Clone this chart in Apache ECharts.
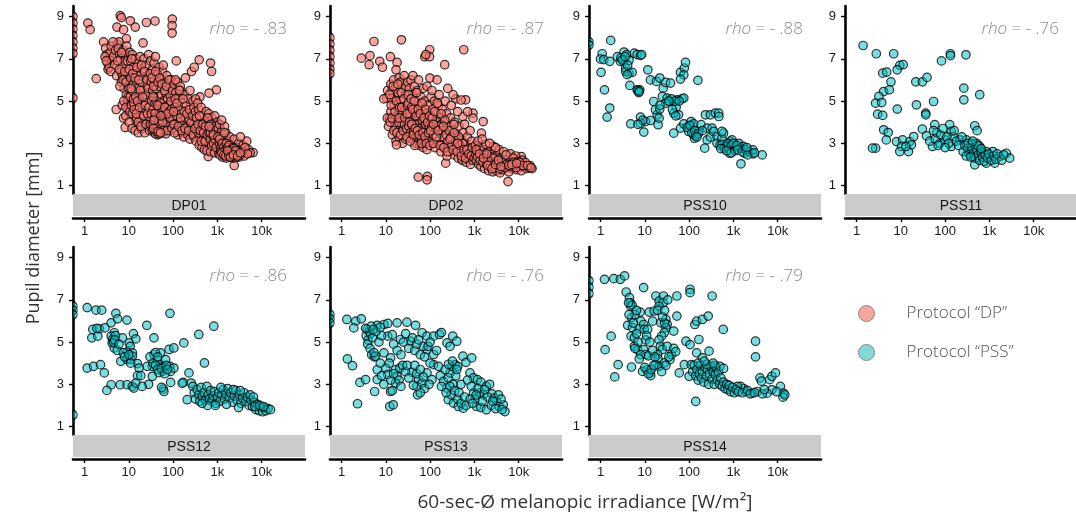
<!DOCTYPE html>
<html>
<head>
<meta charset="utf-8">
<script src="https://cdn.jsdelivr.net/npm/echarts@6/dist/echarts.min.js"></script>
<style>
html,body{margin:0;padding:0;background:#fff;}
#chart{width:1076px;height:515px;}
</style>
</head>
<body>
<div id="chart"></div>
<script>
// ---------------- DATA ----------------
const panelNames = ['DP01', 'DP02', 'PSS10', 'PSS11', 'PSS12', 'PSS13', 'PSS14'];
const panelProtocol = [0, 0, 1, 1, 1, 1, 1];
const rhoValues = ['- .83', '- .87', '- .88', '- .76', '- .86', '- .76', '- .79'];
const protocolNames = ['Protocol \u201CDP\u201D', 'Protocol \u201CPSS\u201D'];
const xTickValues = [1, 10, 100, 1000, 10000];
const xTickLabels = ['1', '10', '100', '1k', '10k'];
const yTickValues = [1, 3, 5, 7, 9];
const xTitle = '60-sec-\u00D8 melanopic irradiance [W/m\u00B2]';
const yTitle = 'Pupil diameter [mm]';

// points with x below the axis range sit at its left edge (x = 0.551)
const dp01 = [
[0.551,9.0],[0.551,8.7],[0.551,8.4],[0.551,8.1],[0.551,7.8],[0.551,7.5],[0.551,7.25],[0.551,5.15],
[1.19,8.69],[1.34,8.38],[1.84,6.06],[6.4,9.04],[6.8,8.95],[5.4,8.5],[7.6,8.38],[10.8,8.8],[14,8.5],[25,8.72],[39,8.79],[96,8.88],[95,8.57],[95,8.22],[8.8,7.95],[21,7.75],[118,6.9],[388,6.95],[700,6.8],[740,6.4],[950,5.53],[650,5.38],[405,5.2],[5.2,4.6],[7.6,4.2],[8.3,3.75],[620,2.37],[2400,1.95],[6400,2.56],[3.4,6.5],[2.7,7.8],
[3.0,7.5],[3.2,7.2],[3.5,7.0],[3.3,6.8],[3.8,7.3],[4.0,7.6],[4.2,6.9],[3.6,6.6],[4.5,7.1],[2.9,7.1],[3.1,6.9],[5.0,7.4],[5.5,7.7],[6.0,7.8],[5.8,7.5],[4.8,6.7],[3.9,6.4],[5.3,6.2],[6.2,7.2],[4.4,7.8],
[6.5,7.0],[7.0,6.6],[7.5,7.4],[8.0,6.9],[8.5,7.2],[9.0,7.6],[7.2,6.2],[6.8,5.9],[8.2,6.0],[9.5,6.4],[7.8,5.6],[8.8,5.3],[9.2,5.0],[6.3,5.7],[7.1,4.8],[9.6,4.6],[8.5,4.3],[9.8,5.8],[6.6,6.4],[9.9,7.1],
[5.6,6.9],[6.1,6.5],[6.9,7.3],[7.4,6.0],[8.1,6.4],[8.7,5.9],[9.3,6.9],[9.7,5.2],[7.7,5.0],[8.6,4.7],[10.1,5.6],[10.6,4.5],
[10.5,7.3],[11,6.9],[12,7.2],[13,6.6],[14,7.0],[15,6.3],[16,6.8],[18,7.1],[20,6.5],[22,7.0],[25,6.7],[28,7.2],[11,6.1],[12.5,5.8],[13.5,5.4],[14.5,6.0],[16,5.6],[17,5.2],[19,5.9],[21,5.5],[23,6.1],[26,5.7],[29,6.2],[10.8,5.2],[11.5,4.8],[12,4.4],[13,4.9],[14,4.1],[15.5,4.6],[17,3.9],[18.5,4.3],[20,4.8],[22,4.0],[24,4.5],[27,3.8],[29,4.2],[10.2,4.0],[11.8,3.7],[13.8,3.6],[16.5,3.5],[19.5,3.7],[23,3.5],[26,5.1],[28,5.4],[12,5.5],[18,6.2],[24,5.3],[15,4.2],
[10.3,6.5],[11.2,5.6],[11.7,7.0],[12.3,6.3],[12.8,5.1],[13.3,4.6],[13.7,6.1],[14.3,5.2],[14.8,4.4],[15.2,6.6],[15.8,5.0],[16.3,4.0],[16.8,6.0],[17.5,4.7],[18.2,5.5],[18.8,3.8],[19.3,6.7],[20.5,5.2],[21.5,4.3],[22.5,6.4],[23.5,4.8],[24.5,3.9],[25.5,6.0],[26.5,4.4],[27.5,5.6],[28.5,4.7],[29.5,3.6],
[31,6.9],[34,6.5],[37,6.8],[40,7.1],[44,6.3],[48,6.6],[52,6.0],[58,6.4],[65,5.9],[72,6.2],[80,5.7],[90,6.0],[32,5.9],[35,5.5],[38,6.0],[42,5.6],[46,5.2],[50,5.7],[55,5.3],[60,5.0],[68,5.4],[75,5.1],[85,5.3],[95,4.9],[33,5.0],[36,4.6],[39,4.9],[43,4.3],[47,4.7],[51,4.1],[56,4.5],[62,4.2],[70,4.6],[78,4.0],[88,4.4],[98,4.1],[31,3.9],[34,3.6],[38,3.5],[41,3.8],[45,3.4],[49,3.6],[53,3.9],[57,3.5],[63,3.7],[69,3.45],[76,3.8],[84,3.6],[92,3.9],[40,3.45],[44,3.6],[60,6.7],[100,5.6],[66,3.9],
[30.5,6.3],[32.5,4.4],[33.5,6.1],[35.5,3.9],[36.5,5.7],[38.5,4.2],[40.5,6.4],[41.5,5.0],[43.5,3.7],[45.5,5.9],[47.5,4.0],[49.5,6.1],[51.5,4.9],[54,3.7],[56,5.8],[59,4.7],[61,3.6],[64,5.5],[67,4.3],[71,5.7],[73,3.6],[77,4.8],[81,6.0],[86,4.2],[89,5.0],[94,3.7],[97,5.5],[42,3.55],[48,3.45],[36,3.7],[46,3.55],[52,3.5],
[45,4.8],[39,4.4],[58,4.0],[65,4.7],[82,4.5],[91,4.6],[74,4.4],[53,4.3],[35,5.2],[37,4.1],
[105,5.8],[115,5.4],[125,5.9],[135,5.2],[150,5.5],[165,4.9],[180,5.3],[200,4.8],[220,5.1],[250,4.6],[280,5.0],[110,4.7],[120,4.3],[130,4.6],[140,4.0],[155,4.4],[170,3.9],[190,4.2],[210,3.8],[230,4.1],[260,3.7],[290,3.9],[105,3.9],[118,3.6],[128,3.4],[145,3.7],[160,3.5],[175,3.3],[195,3.6],[215,3.4],[240,3.2],[270,3.5],[300,3.3],[112,5.1],[145,5.7],[190,6.1],[240,5.5],[320,5.1],[260,6.4],[300,6.6],
[102,4.5],[108,3.5],[113,6.0],[122,4.9],[132,3.8],[138,5.5],[148,4.2],[158,3.6],[168,5.1],[178,4.5],[185,3.7],[205,4.4],[225,3.6],[235,4.6],[255,4.0],[275,4.3],[285,3.4],[295,4.7],
[320,4.5],[350,4.2],[380,4.6],[420,4.0],[460,4.3],[500,3.8],[550,4.1],[600,3.7],[660,4.0],[720,3.6],[800,3.9],[900,3.5],[340,3.8],[370,3.5],[400,3.3],[440,3.6],[480,3.2],[520,3.4],[570,3.0],[620,3.3],[680,2.9],[750,3.2],[830,2.8],[920,3.1],[330,3.1],[390,2.9],[450,2.8],[510,2.7],[580,2.65],[700,2.6],[860,2.55],[360,4.9],[430,4.7],[560,4.5],[640,4.4],[760,4.2],[870,4.3],[980,4.0],[990,3.3],
[310,3.7],[335,4.2],[365,3.9],[395,4.3],[410,3.6],[435,3.1],[470,3.9],[490,3.5],[530,3.1],[540,3.8],[590,3.4],[610,4.2],[650,3.5],[690,3.2],[710,3.9],[740,2.9],[780,3.4],[810,3.0],[850,3.7],[880,3.2],[940,2.8],[960,3.7],[700,3.5],[760,3.7],[820,3.4],[900,3.8],[650,3.8],
[1050,3.7],[1150,3.4],[1250,3.6],[1400,3.2],[1550,3.5],[1700,3.1],[1900,3.3],[2100,2.9],[2400,3.2],[2700,2.8],[3000,3.0],[3400,2.7],[3800,2.9],[4300,2.6],[5000,2.7],[1100,3.0],[1200,2.8],[1350,2.6],[1500,2.9],[1650,2.5],[1800,2.7],[2000,2.45],[2200,2.6],[2500,2.4],[2800,2.55],[3100,2.35],[3500,2.5],[1080,2.5],[1300,2.35],[1600,2.3],[2300,2.3],[2600,2.5],[1950,2.55],[2150,2.35],[2900,2.65],[4000,2.4],[4600,3.1],[1120,3.9],[1450,3.8],[1250,4.1],[3300,3.3],[5500,2.55],
[1030,3.3],[1130,3.2],[1180,2.6],[1280,3.0],[1380,2.8],[1430,3.5],[1520,2.7],[1580,3.0],[1680,2.8],[1750,2.55],[1850,2.9],[2050,2.7],[2250,2.8],[2350,2.5],[2450,2.65],[2650,2.35],[2750,2.6],[3200,2.45],[3600,2.6],[4200,2.8],[4800,2.5],[2050,2.4],[2550,2.55],[1720,2.4],
[1150,2.45],[1250,2.55],[1400,2.45],[1550,2.4],[1800,2.45],[1900,2.6],[2100,2.55],[2200,2.45],[2400,2.75],[2600,2.65],[1700,2.65],[1950,2.35],[2300,2.45],[2850,2.4],[3300,2.55]
];

const dp02 = [
[0.551,8.0],[0.551,7.7],[0.551,7.4],[0.551,7.1],[0.551,6.8],[0.551,6.5],[0.551,6.3],
[2.8,7.03],[4.4,7.15],[5.4,7.82],[4.2,6.72],[7.3,6.88],[8.4,6.6],[12.7,7.1],[18,6.83],[22.5,7.9],[17,6.48],[76,7.1],[98,7.43],[97,7.1],[80,7.2],[214,6.72],[575,7.43],[99,6.09],[144,6.0],[54,1.4],[87,1.43],[85,1.27],[5750,1.19],[11500,2.37],[225,2.06],[537,2.22],[930,4.43],[930,4.19],[1580,4.03],[550,4.27],[1440,3.48],[10.4,5.14],[12,4.19],[635,5.06],[380,5.1],[500,5.05],[700,4.5],
[10.8,4.2],[11,5.5],[9,5.1],[11.5,3.8],
[13,5.8],[14,5.5],[15,6.0],[16,5.2],[17,5.7],[18,4.9],[19,5.4],[20,6.1],[22,5.0],[24,5.6],[26,4.7],[28,5.3],[13,4.5],[14.5,4.1],[15.5,4.8],[16.5,3.8],[18,4.3],[19.5,3.6],[21,4.5],[23,3.9],[25,4.2],[27,3.5],[29,4.0],[14,3.4],[17,3.1],[20,3.3],[24,3.0],[12.5,4.0],[22,5.9],[26,6.2],[13.5,5.1],[28,3.2],[17.4,2.93],
[12.2,5.3],[13.2,4.8],[13.8,4.2],[14.7,5.7],[15.2,3.6],[16.2,4.5],[17.3,5.0],[17.8,3.5],[18.7,5.8],[19.7,4.0],[20.5,4.7],[21.5,3.4],[22.5,5.4],[23.5,4.4],[24.5,3.6],[25.5,5.1],[26.5,3.9],[27.5,4.6],[28.5,5.7],[29.5,3.7],
[20,4.2],[23,4.7],[27,4.2],[31,4.8],[36,4.2],[40,3.6],[45,4.0],[50,4.6],[55,3.5],[62,4.0],[68,3.9],[75,3.8],[80,3.5],[90,4.2],
[31,5.9],[34,5.6],[37,6.0],[40,5.3],[44,5.7],[48,5.0],[52,5.5],[57,4.8],[62,5.2],[68,4.6],[75,5.0],[82,4.4],[90,4.8],[32,4.9],[35,4.4],[38,4.7],[42,4.1],[46,4.5],[50,3.9],[55,4.3],[60,3.7],[66,4.1],[72,3.6],[79,3.9],[87,3.4],[95,3.8],[33,3.8],[36,3.5],[39,3.2],[43,3.6],[47,3.0],[53,3.3],[58,2.9],[64,3.2],[70,2.8],[77,3.0],[85,2.7],[93,3.1],[30,3.3],[41,6.2],[55,6.0],[70,5.6],[85,5.7],[45,2.9],
[30.5,4.4],[32,5.3],[34,4.0],[35.5,3.1],[37,5.1],[38.5,3.9],[40.5,4.6],[42,3.4],[44,5.0],[46,3.7],[48,4.3],[50,5.4],[52,3.6],[54,4.6],[57,3.4],[60,4.4],[63,3.0],[66,4.9],[69,3.5],[73,4.2],[76,3.3],[80,4.6],[83,3.0],[88,4.0],[92,3.5],[97,4.3],[99,2.9],
[105,5.2],[115,4.6],[125,5.0],[140,4.4],[155,4.8],[170,4.2],[190,4.6],[210,4.0],[235,4.4],[260,3.8],[290,4.2],[320,3.6],[360,4.0],[400,3.4],[450,3.8],[500,3.2],[560,3.5],[620,3.0],[700,3.3],[780,2.8],[870,3.1],[960,2.6],[110,3.8],[120,3.4],[135,3.7],[150,3.1],[165,3.5],[185,2.9],[200,3.3],[225,2.7],[250,3.1],[280,2.6],[310,2.9],[350,2.45],[390,2.8],[430,2.3],[480,2.6],[530,2.2],[590,2.5],[650,2.1],[730,2.35],[820,2.0],[910,2.2],[130,2.8],[175,2.6],[240,2.4],[110,5.5],[160,5.3],[220,5.0],[300,4.8],[420,4.5],[330,5.3],[250,5.6],[600,3.9],[800,3.6],[140,4.0],[180,3.9],
[103,3.6],[112,4.2],[118,3.0],[128,4.5],[138,3.3],[145,4.9],[158,3.8],[168,2.9],[178,4.4],[195,3.6],[205,2.8],[215,4.1],[230,3.4],[245,2.6],[270,3.6],[300,3.3],[330,2.7],[345,3.9],[375,3.1],[410,2.6],[440,3.3],[470,2.9],[510,2.4],[540,3.0],[580,2.7],[630,2.3],[680,2.7],[750,2.5],[850,2.4],[900,2.8],[980,2.3],
[120,3.9],[150,3.6],[200,3.8],[280,3.2],[350,3.5],[420,3.0],
[1050,2.9],[1150,2.6],[1300,2.8],[1450,2.4],[1600,2.7],[1800,2.3],[2000,2.6],[2250,2.2],[2500,2.5],[2800,2.1],[3100,2.4],[3500,2.0],[4000,2.3],[4500,1.95],[5000,2.2],[5600,1.85],[6300,2.1],[7000,1.8],[8000,2.0],[9000,1.75],[10000,1.95],[11500,1.7],[13000,1.9],[15000,1.8],[17000,1.85],[20000,1.8],[1100,2.2],[1250,2.0],[1400,1.9],[1700,1.8],[2100,1.7],[2600,1.65],[3200,1.7],[3800,1.6],[4300,1.75],[6000,1.65],[1200,3.1],[1800,2.95],[2700,2.85],[3600,2.7],[4600,2.6],[6500,2.5],[8500,2.4],[12000,2.2],[3000,2.8],[5200,2.45],[7500,2.3],[9500,2.15],[14000,2.1],[18000,1.95],[1500,3.2],[2200,3.0],
[1080,2.45],[1180,2.35],[1350,2.2],[1550,2.1],[1650,2.45],[1900,2.0],[2300,1.9],[2400,2.35],[2900,1.85],[3300,2.2],[3700,1.8],[4200,2.1],[4800,1.85],[5400,2.0],[6800,1.9],[7700,2.1],[8800,1.85],[10500,2.1],[12500,1.95],[16000,1.95],[19000,1.85],[2700,2.3],[2000,2.2],
[2000,1.95],[2500,1.8],[3000,2.0],[3500,2.2],[4000,1.9],[6000,1.95],[7000,2.0],[9000,2.05],[1100,2.7],[1300,2.5],[1600,2.3],[1900,2.5]
];

const pss10 = [
[0.551,7.8],[0.551,7.65],
[1.7,7.87],[1.09,7.24],[1.0,6.99],[1.19,6.96],[1.62,6.88],[1.03,6.36],[1.23,5.53],[1.41,4.24],[1.62,4.67],[2.4,7.1],[3.4,7.32],[3.9,7.2],[4.4,6.93],[3.3,6.88],[2.8,6.88],[3.7,6.56],[3.7,6.4],[4.4,6.32],[5.2,6.36],[5.8,7.27],[6.7,7.2],[8,7.16],[4.6,5.74],[6.7,5.53],[7.7,5.53],[7.3,5.4],[4.8,3.92],[8,4.24],[10.4,4.03],[9.5,3.53],[13.4,4.08],[19,4.35],[20,3.88],[21,4.19],[11.7,6.48],[13.4,6.0],[18.3,5.93],[21.8,6.09],[26,5.61],[29.5,5.88],[38,5.85],[15.9,4.98],[17.4,4.59],[21.8,4.62],[25,5.22],[31.9,5.14],[34.8,4.98],[45,4.98],[53.6,5.06],[69,5.11],[76,5.14],[51,4.71],[58,4.35],[45,4.43],[45,3.48],[63.8,6.36],[78,6.56],[83,6.83],[76,6.24],[63.8,6.04],[158,5.98],[64,3.72],[76,3.92],[98,3.8],[111,4.03],[127,3.92],[98,3.56],[127,3.4],[132,3.24],[166,3.56],[186,3.88],[234,4.35],[302,4.35],[390,4.43],[467,4.43],[470,4.27],[256,3.72],[330,3.72],[256,3.16],[302,3.29],[360,3.56],[427,3.32],[225,2.77],[427,3.0],[550,3.24],[660,2.82],[780,2.93],[850,3.09],[930,3.16],[980,2.77],[830,2.53],[1070,2.85],[1320,3.0],[1440,2.77],[1660,2.85],[1480,2.03],[1780,2.53],[2240,2.61],[2760,2.5],[2760,2.69],[4470,2.45],[600,3.48],[550,3.56],
[2.9,7.05],[3.1,6.95],[4.1,6.7],[4.0,6.25],[3.6,7.1],[7.0,5.5],[7.5,5.45],[8.5,7.2],[90,3.75],[105,3.85],[115,3.5],[140,3.35],[135,3.6],[500,2.9],[560,2.95],[620,2.75],[700,2.85],[750,3.0],[900,2.9],[1000,3.0],[1100,2.65],[1200,2.9],[900,2.55],[1250,2.7],[40,5.1],[48,5.0],[60,5.0],[30,4.9],[35,5.0],[42,4.6],[50,4.3],[22,4.8],[160,3.45],[200,3.6],[520,2.75],[700,2.65],[1600,2.6],[1900,2.7],[2100,2.45],[3000,2.55],[2000,2.8],[150,3.3],[8,3.95],[9,4.1],[7,3.9]
];

const pss11 = [
[1.41,7.63],[2.8,7.24],[6.9,7.24],[3.9,6.32],[4.8,6.37],[9.5,6.69],[11.3,6.72],[8.3,6.48],[6.0,5.91],[4.1,5.45],[5.5,5.53],[3.2,5.22],[2.7,4.9],[3.7,4.93],[3.0,4.38],[3.9,4.32],[8.3,4.62],[2.7,2.77],[2.3,2.77],[4.1,3.64],[5.2,3.51],[4.7,3.16],[8,3.08],[11,3.16],[10.4,2.85],[14.9,2.61],[15.9,3.08],[19.6,3.32],[17.4,2.93],[9.5,2.61],[13,2.85],[21.8,5.91],[30.7,5.91],[39,6.12],[22.5,4.82],[36.6,4.43],[36.6,4.35],[55,4.98],[58.5,3.88],[30.7,3.67],[38,3.35],[51.8,2.85],[76,3.0],[83,6.9],[132,7.24],[132,7.15],[295,7.19],[265,5.61],[265,5.06],[605,5.3],[127,3.88],[138,3.56],[152,3.32],[138,2.85],[99,3.16],[215,3.16],[302,3.16],[467,3.83],[527,3.6],[256,2.61],[362,2.69],[427,2.37],[467,1.98],[605,2.85],[720,2.53],[850,2.06],[1020,2.37],[1200,2.61],[1700,2.37],[2400,2.53],[2880,2.3],[1320,2.06],[510,3.0],[390,3.0],[850,2.61],
[45,3.1],[60,3.2],[65,3.5],[80,3.4],[110,3.3],[120,3.0],[160,3.6],[180,3.1],[200,2.9],[240,3.3],[280,2.9],[320,2.75],[350,2.5],[400,2.8],[440,2.55],[480,2.3],[520,2.7],[560,2.45],[600,2.2],[650,2.6],[700,2.35],[760,2.15],[800,2.45],[900,2.3],[950,2.5],[1100,2.2],[1250,2.4],[1400,2.25],[1500,2.5],[1900,2.2],[2100,2.45],[550,2.9],[650,2.75],[300,2.4],[330,3.0],[420,3.1],[380,2.35],[70,2.9],[100,2.8],[55,3.6],[90,3.7]
];

const pss12 = [
[0.551,6.7],[0.551,6.5],[0.551,6.3],[0.551,1.55],
[1.15,6.63],[1.82,6.51],[2.45,6.51],[1.54,5.6],[1.46,5.2],[2.0,5.28],[2.17,5.63],[1.9,5.65],[2.9,5.67],[4.0,5.91],[5.1,6.36],[5.6,6.1],[4.7,5.44],[4.0,5.28],[4.3,5.12],[4.2,4.95],[4.7,4.72],[7.2,5.2],[9.1,6.04],[12.7,5.4],[14.4,5.15],[10.2,4.96],[10.8,4.8],[9.1,4.52],[12.1,4.49],[6.6,4.09],[9.1,4.17],[11,4.17],[12,4.33],[15.7,3.98],[17.1,3.77],[15.7,3.41],[18.7,3.41],[25.5,5.79],[37,5.2],[37,4.41],[44,4.17],[34,3.85],[26,3.85],[34,3.38],[50,3.93],[62,3.85],[68,4.17],[57,3.61],[52,4.49],[81,4.65],[104,4.72],[85,6.36],[85,3.85],[88,3.61],[88,3.09],[104,3.77],[60,2.77],[62,2.66],[55,2.85],[28,3.0],[4.0,2.98],[3.2,2.71],[6.4,2.98],[9.1,2.98],[12,2.9],[13,2.82],[14.4,3.06],[20,2.9],[1.15,3.77],[1.6,3.85],[2.3,3.93],[2.8,3.54],[175,4.96],[170,3.09],[160,3.05],[380,5.36],[830,5.75],[510,4.01],[228,3.54],[256,3.06],[208,2.27],
[4.5,5.0],[5.0,5.3],[4.8,5.1],[5.5,4.6],[6.0,4.9],[7.5,4.5],[8.0,4.3],[10,4.4],[11,4.0],[30,4.3],[35,4.0],[40,3.9],[45,3.7],[48,3.55],[55,3.75],[65,3.5],[70,3.9],[75,3.7],[40,4.5],[45,4.3],
[280,2.9],[300,2.6],[320,2.3],[350,2.75],[380,2.5],[400,2.2],[430,2.85],[460,2.4],[500,2.6],[540,2.25],[580,2.9],[620,2.5],[660,2.3],[700,2.7],[750,2.2],[800,2.45],[860,2.65],[920,2.1],[1000,2.4],[1080,2.6],[1150,2.2],[1250,2.5],[1350,2.75],[1450,2.3],[1550,2.55],[1700,2.8],[1850,2.35],[2000,2.6],[2200,2.15],[2400,2.45],[2600,2.7],[2800,2.25],[3100,2.5],[3400,2.1],[3700,2.35],[4000,2.6],[4400,2.2],[4800,2.4],[5200,2.0],[5700,2.25],[6200,1.95],[6800,2.15],[7400,1.8],[8000,2.05],[8800,1.75],[9500,1.95],[10500,1.7],[11500,1.9],[12500,1.75],[14000,1.85],[15800,1.8],[1200,2.85],[2300,2.75],[3300,2.7],[5500,2.5],[6500,2.4],[7000,1.95],[9000,2.0],[11000,1.95],[600,2.0],[900,2.0],[1600,2.05],[3000,1.9],[450,2.1]
];

const pss13 = [
[0.551,6.3],[0.551,6.1],[0.551,5.9],
[1.32,6.07],[2.1,5.99],[1.9,5.67],[2.8,6.1],[1.36,4.2],[1.77,3.88],[2.3,2.08],[2.6,3.09],[3.5,3.22],
[3.8,5.6],[4.2,5.5],[3.6,5.3],[4.0,5.1],[4.5,5.4],[3.9,4.9],[4.4,4.7],[5.0,5.2],[4.8,4.4],[5.5,4.3],[6.4,5.79],[9.1,5.83],[11.1,5.88],[18,5.91],[30,5.94],[47,5.79],[11.1,5.28],[14,5.35],[21.4,5.12],[36,5.04],[66,5.44],[85,5.28],[120,5.28],[163,5.36],[180,5.45],[240,4.96],[282,4.8],[325,5.28],[400,5.04],[85,4.65],[70,4.8],[120,4.41],[120,3.93],[155,3.85],[100,4.0],[9.1,4.49],[12.8,4.25],[5.9,4.33],[5.4,4.5],[7,5.0],[8,5.3],[15,4.9],[25,5.0],[28,5.4],[33,4.7],[40,5.2],[45,4.6],[50,4.9],[55,5.1],[60,4.4],[75,4.3],[90,4.8],[100,5.0],[140,4.6],[18,4.6],[22,4.4],[6,5.5],[7.5,5.7],[4.7,5.75],[3.5,5.65],[5.2,5.6],
[6.4,3.69],[6.4,3.22],[5.6,2.66],[10,3.77],[11,3.46],[12.8,2.66],[12.3,1.95],[14.7,2.03],[16.6,3.69],[18,3.38],[16.6,3.06],[20.7,3.77],[24,3.9],[39,3.57],[55,3.22],[50,2.9],[52,2.5],[66,3.06],[85,3.54],[110,3.22],[8,3.4],[9,3.0],[13,3.2],[14,2.7],[15,3.5],[20,3.2],[22,2.9],[28,3.6],[33,3.3],[45,3.9],[50,3.5],[60,3.7],[70,3.35],[75,2.8],[95,3.0],[60,2.6],[42,2.95],[30,3.9],[7.5,4.0],[12,4.0],
[170,3.41],[200,3.14],[240,2.82],[257,3.3],[282,3.54],[309,3.85],[365,3.93],[420,3.85],[380,3.4],[257,2.27],[338,2.11],[437,1.95],[562,1.87],[300,2.5],[420,2.3],[500,2.1],[650,2.0],[220,3.7],[260,3.95],[330,3.0],[280,2.9],[360,2.7],[450,2.6],[500,3.0],[600,2.4],[550,4.33],[645,4.04],[870,4.25],[795,3.54],[955,3.3],[700,3.2],[850,2.9],[180,2.9],[230,2.6],[400,3.7],[320,4.1],
[1170,3.22],[1400,3.1],[1860,2.9],[2200,3.0],[955,2.58],[1050,2.3],[1120,1.95],[1400,1.9],[1860,1.79],[2400,2.0],[3160,2.19],[3600,1.95],[4470,2.03],[4900,1.71],[1600,2.5],[2500,2.55],[1300,2.6],[2000,2.4],[2800,2.35],[1500,2.2],[3500,2.5],[4000,2.3],[1200,2.8],[1700,2.75],[2600,2.2],[3000,1.85],[4200,1.8],[800,2.3],[900,2.1],[1100,2.5]
];

const pss14 = [
[0.551,7.9],[0.551,7.6],[0.551,7.3],
[1.23,7.97],[2.0,8.0],[2.8,7.97],[3.5,8.13],[1.27,4.64],[1.74,5.28],[2.5,3.93],[2.1,3.35],[5.0,3.82],[9.4,7.58],[3.8,7.37],[4.5,7.1],[4.7,6.86],[4.8,6.7],[5.2,6.75],[4.3,6.86],[5.0,6.15],[4.1,5.79],[5.3,5.68],[4.9,5.28],[5.8,5.2],[5.8,4.8],[6.9,4.64],[7.9,6.42],[8.2,5.99],[7.5,5.63],[9.4,5.83],[9.7,5.6],[11.6,5.6],[10.5,5.1],[9.4,4.64],[10.6,4.41],[12,4.35],[8.9,3.61],[11.2,3.69],[13.3,3.54],[13.6,3.41],[12.6,6.42],[15,5.99],[16.3,6.47],[17.8,7.18],[21,6.94],[26.4,7.18],[26,6.86],[21,6.7],[19.5,6.5],[23,5.91],[30,6.07],[32,5.83],[30,5.68],[27.5,5.44],[24,5.28],[21,5.1],[22.4,4.8],[25,4.65],[32,4.8],[19.4,4.41],[20,4.2],[17.8,3.93],[21,3.85],[27.5,4.01],[37,4.17],[53,7.18],[53,6.23],[45,5.52],[40,4.41],[45,4.7],[50,4.55],[60,3.54],[78,3.93],[85,5.04],[105,7.5],[105,7.34],[135,5.83],[148,5.99],[200,6.07],[270,6.23],[331,7.18],[105,4.88],[166,5.12],[148,4.49],[200,4.25],[282,4.57],[112,3.93],[141,2.19],[100,3.38],[590,5.6],[3160,5.04],[3160,4.3],[3980,3.3],[4300,3.15],[6600,3.22],[7400,3.38],[8900,3.54],[11500,2.9],[13500,2.58],[13200,2.39],[14500,2.5],[7400,2.74],[5750,2.58],[3460,2.66],[2630,2.58],[1860,2.66],[1700,2.8],[1450,2.9],[1230,2.9],
[6.0,6.3],[6.5,5.4],[7,5.0],[8,4.4],[7.5,4.2],[6,4.7],[10,3.8],[12,3.5],[14,3.7],[16,3.9],[11,5.3],[13,5.0],[15,4.6],[17,4.3],[24,3.6],[30,3.9],[35,4.3],[28,5.9],[25,6.2],[28,6.5],[33,7.0],[6.5,6.5],[4.4,6.3],[5.5,5.9],
[120,3.6],[130,3.9],[140,3.4],[150,3.7],[160,3.2],[170,3.5],[180,3.9],[190,3.3],[200,3.6],[215,3.1],[230,3.8],[245,3.4],[260,3.7],[275,3.0],[290,3.5],[310,3.85],[330,3.25],[350,3.6],[370,3.0],[390,3.45],[410,3.8],[430,3.2],[460,3.6],[490,3.0],[520,3.3],[560,2.9],[600,3.1],[650,2.8],[700,3.0],[750,2.75],[800,2.95],[870,2.65],[950,2.85],[1050,2.6],[1150,2.75],[1300,2.65],[1600,2.6],[2100,2.7],[2400,2.55],[3000,2.6],[4500,2.55],[5000,2.75],[9500,2.65],[250,3.95],[380,3.9],[500,3.85],[600,3.75],[160,4.0],[220,4.1],[350,4.0]
];

const panelData = [dp01, dp02, pss10, pss11, pss12, pss13, pss14];

// ---------------- LAYOUT / STYLE ----------------
const X_MIN = 0.55, X_MAX = 95000, Y_MIN = 0.6, Y_MAX = 9.5;
const colLeft = [73, 330, 589, 845];
const rowTop = [6, 247];
const rhoTop = [21, 268];
const gridW = 232, gridH = 188, stripH = 22;
const fills = ['rgba(248,118,109,0.66)', 'rgba(0,191,196,0.52)'];
const legendFills = ['#F8A59E', '#85D7D8'];
const pointBorder = 'rgba(0,0,0,0.78)';
const tickFont = 'Liberation Sans, Arial, sans-serif';
const lightFont = '"Open Sans", Lato, sans-serif';
// right half of a circle: used for points pinned at the left edge (clipped by the panel)
const halfCircle = 'path://M0,0 A10,10 0 0 1 0,20 Z';

const grids = [], xAxes = [], yAxes = [], series = [], titles = [], graphics = [];
panelNames.forEach((name, i) => {
  const row = i < 4 ? 0 : 1;
  const col = i < 4 ? i : i - 4;
  const left = colLeft[col], top = rowTop[row];
  grids.push({left: left, top: top, width: gridW, height: gridH, containLabel: false, outerBoundsMode: 'none'});
  xAxes.push({
    type: 'log', gridIndex: i, logBase: 10, min: X_MIN, max: X_MAX,
    offset: stripH + 2,
    axisLine: {show: true, lineStyle: {color: '#000', width: 2.6}},
    axisTick: {show: true, length: 4, lineStyle: {color: '#000', width: 1.4}, customValues: xTickValues},
    axisLabel: {show: true, margin: 7, fontSize: 13, color: '#1a1a1a', fontFamily: tickFont,
      customValues: xTickValues,
      formatter: v => { const k = xTickValues.findIndex(t => Math.abs(t - v) / t < 1e-6); return k >= 0 ? xTickLabels[k] : ''; }},
    splitLine: {show: false}, minorTick: {show: false}
  });
  yAxes.push({
    type: 'value', gridIndex: i, min: Y_MIN, max: Y_MAX,
    axisLine: {show: true, onZero: false, lineStyle: {color: '#000', width: 2.6}},
    axisTick: {show: true, length: 4, lineStyle: {color: '#000', width: 1.4}, customValues: yTickValues},
    axisLabel: {show: true, margin: 9, fontSize: 13, color: '#1a1a1a', fontFamily: tickFont, customValues: yTickValues},
    splitLine: {show: false}
  });
  const p = panelProtocol[i];
  const inside = panelData[i].filter(d => d[0] > 0.56);
  const edge = panelData[i].filter(d => d[0] <= 0.56);
  const style = {color: fills[p], borderColor: pointBorder, borderWidth: 1.2, opacity: 1};
  series.push({
    type: 'scatter', name: protocolNames[p], xAxisIndex: i, yAxisIndex: i,
    data: inside, symbol: 'circle', symbolSize: 8.5,
    itemStyle: style, emphasis: {disabled: true}
  });
  if (edge.length) {
    series.push({
      type: 'scatter', name: protocolNames[p], xAxisIndex: i, yAxisIndex: i,
      data: edge, symbol: halfCircle, symbolSize: [4.25, 8.5], symbolOffset: [2.1, 0],
      itemStyle: style, emphasis: {disabled: true}, z: 1
    });
  }
  titles.push({
    text: '{i|rho} = ' + rhoValues[i],
    right: 1076 - (left + gridW - 18), top: rhoTop[row], padding: 0,
    textStyle: {fontFamily: lightFont, fontWeight: 300, fontSize: 17, color: '#8a8a8a',
      rich: {i: {fontFamily: lightFont, fontWeight: 300, fontStyle: 'italic', fontSize: 17, color: '#8a8a8a'}}}
  });
  graphics.push({type: 'rect', silent: true, shape: {x: left, y: top + gridH, width: gridW, height: stripH},
    style: {fill: '#cbcbcb'}, z: 1});
  graphics.push({type: 'text', silent: true, x: left + gridW / 2, y: top + gridH + stripH / 2 + 1, z: 2,
    style: {text: name, align: 'center', verticalAlign: 'middle', fontSize: 14, fontFamily: tickFont, fill: '#1a1a1a'}});
});

graphics.push({type: 'text', silent: true, x: 34, y: 238, rotation: Math.PI / 2,
  style: {text: yTitle, align: 'center', verticalAlign: 'middle', fontSize: 18, fontFamily: lightFont, fill: '#333'}});
graphics.push({type: 'text', silent: true, x: 585, y: 503,
  style: {text: xTitle, align: 'center', verticalAlign: 'middle', fontSize: 19, fontFamily: lightFont, fill: '#333'}});

const chart = echarts.init(document.getElementById('chart'), null, {renderer: 'canvas'});
chart.setOption({
  animation: false,
  backgroundColor: '#fff',
  title: titles,
  grid: grids,
  xAxis: xAxes,
  yAxis: yAxes,
  legend: {
    orient: 'vertical', left: 858, top: 305, padding: 0, itemWidth: 16, itemHeight: 16, itemGap: 22,
    icon: 'circle', selectedMode: false,
    data: protocolNames.map((n, k) => ({name: n, itemStyle: {color: legendFills[k], borderColor: '#8a8a8a', borderWidth: 1}})),
    formatter: n => '{s|}' + n,
    textStyle: {fontFamily: lightFont, fontWeight: 300, fontSize: 17, color: '#555', rich: {s: {width: 27}}}
  },
  graphic: graphics,
  series: series
});
</script>
</body>
</html>
